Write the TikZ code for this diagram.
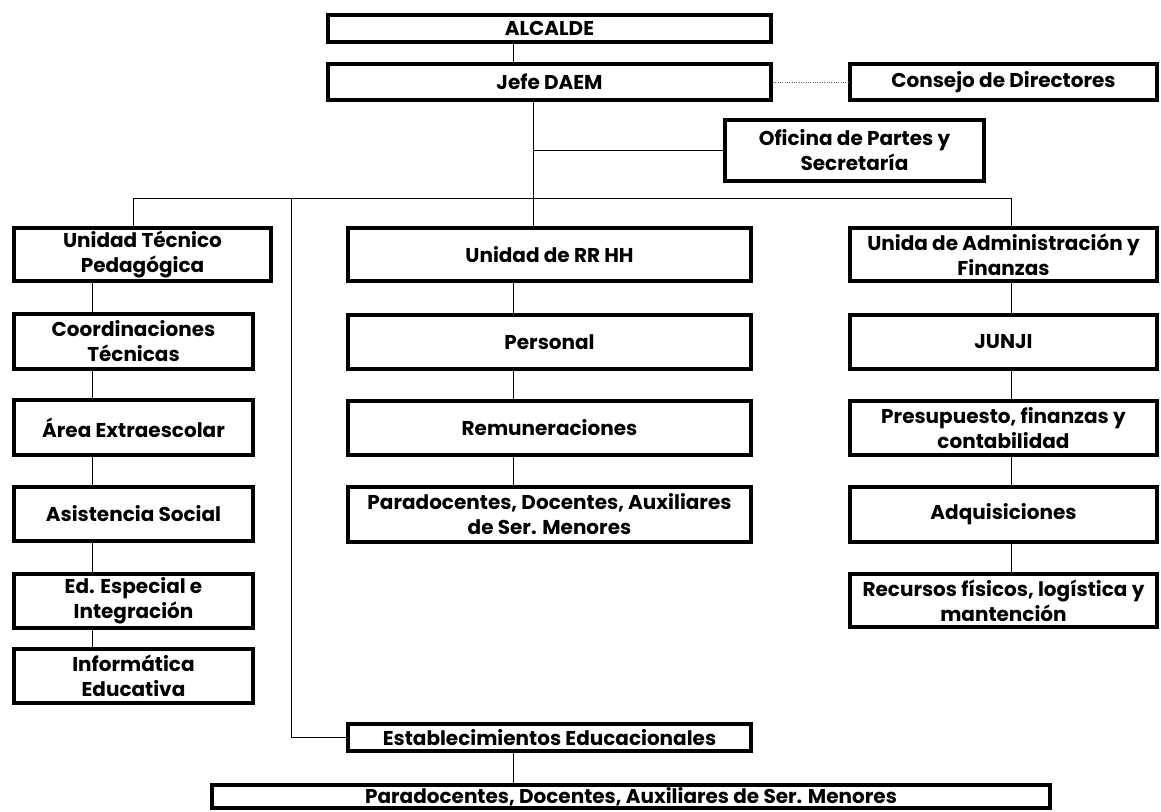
\documentclass[tikz,border=0pt]{standalone}
\usepackage{fontspec}
\setmainfont{Poppins}
\begin{document}
\begin{tikzpicture}[x=0.75pt,y=-0.75pt,
  box/.style={draw=black, line width=3pt, fill=white, inner sep=0pt, align=center,
    font=\fontsize{15}{18.75}\selectfont\bfseries, text=black},
  sz/.style 2 args={minimum width={(#1-4)*0.75pt}, minimum height={(#2-4)*0.75pt}},
  link/.style={draw=black, line width=0.75pt},
  dots/.style={draw=black!60, line width=0.75pt, densely dotted}]
\useasboundingbox (0,0) rectangle (1161,811);
\fill[white] (0,0) rectangle (1161,811);

% boxes
\node[box, sz={447}{31}] (alc) at (549.5,28.5) {ALCALDE};
\node[box, sz={447}{40}] (jefe) at (549.5,82) {Jefe DAEM};
\node[box, sz={311}{40}] (cons) at (1003.5,82) {Consejo de Directores};
\node[box, sz={263}{65}] (ofi) at (854.5,150.5) {Oficina de Partes y\\Secretaría};

\node[box, sz={261}{57}] (utp) at (142.5,254.5) {Unidad Técnico\\Pedagógica};
\node[box, sz={243}{59}] (coord) at (133.5,341.5) {Coordinaciones\\Técnicas};
\node[box, sz={243}{59}] (area) at (133.5,427.5) {Área Extraescolar};
\node[box, sz={243}{58}] (asis) at (133.5,514) {Asistencia Social};
\node[box, sz={243}{58}] (edesp) at (133.5,601) {Ed. Especial e\\Integración};
\node[box, sz={243}{58}] (info) at (133.5,676) {Informática\\Educativa};

\node[box, sz={407}{57}] (rrhh) at (549.5,254.5) {Unidad de RR HH};
\node[box, sz={407}{58}] (pers) at (549.5,342) {Personal};
\node[box, sz={407}{58}] (remu) at (549.5,428) {Remuneraciones};
\node[box, sz={407}{59}] (para) at (549.5,514.5) {Paradocentes, Docentes, Auxiliares\\de Ser. Menores};

\node[box, sz={311}{57}] (adm) at (1003.5,254.5) {Unida de Administración y\\Finanzas};
\node[box, sz={311}{58}] (junji) at (1003.5,342) {JUNJI};
\node[box, sz={311}{58}] (pres) at (1003.5,428) {Presupuesto, finanzas y\\contabilidad};
\node[box, sz={311}{59}] (adq) at (1003.5,514.5) {Adquisiciones};
\node[box, sz={311}{57}] (recu) at (1003.5,600.5) {Recursos físicos, logística y\\mantención};

\node[box, sz={407}{31}] (estab) at (549.5,737.5) {Establecimientos Educacionales};
\node[box, sz={842}{27}] (bot) at (631,796.5) {Paradocentes, Docentes, Auxiliares de Ser. Menores};

% junction coordinates
\coordinate (xl) at (92,0);
\coordinate (xc) at (513,0);
\coordinate (xb) at (133,198);
\coordinate (xm) at (533,198);
\coordinate (xe) at (291,198);
\coordinate (xr) at (1011,198);

% connectors
\draw[link] (alc.south -| xc) -- (jefe.north -| xc);
\draw[dots] (jefe.east) -- (cons.west);
\draw[link] (jefe.south -| xm) -- (rrhh.north -| xm);
\draw[link] (ofi.west -| xm) -- (ofi.west);
\draw[link] (xb) -- (xr);
\draw[link] (xb) -- (utp.north -| xb);
\draw[link] (xr) -- (adm.north -| xr);

\draw[link] (utp.south -| xl) -- (coord.north -| xl);
\draw[link] (coord.south -| xl) -- (area.north -| xl);
\draw[link] (area.south -| xl) -- (asis.north -| xl);
\draw[link] (asis.south -| xl) -- (edesp.north -| xl);
\draw[link] (edesp.south -| xl) -- (info.north -| xl);

\draw[link] (rrhh.south -| xc) -- (pers.north -| xc);
\draw[link] (pers.south -| xc) -- (remu.north -| xc);
\draw[link] (remu.south -| xc) -- (para.north -| xc);

\draw[link] (adm.south -| xr) -- (junji.north -| xr);
\draw[link] (junji.south -| xr) -- (pres.north -| xr);
\draw[link] (pres.south -| xr) -- (adq.north -| xr);
\draw[link] (adq.south -| xr) -- (recu.north -| xr);

\draw[link] (xe) -- (xe |- estab.west) -- (estab.west);
\draw[link] (estab.south -| xc) -- (bot.north -| xc);
\end{tikzpicture}
\end{document}
